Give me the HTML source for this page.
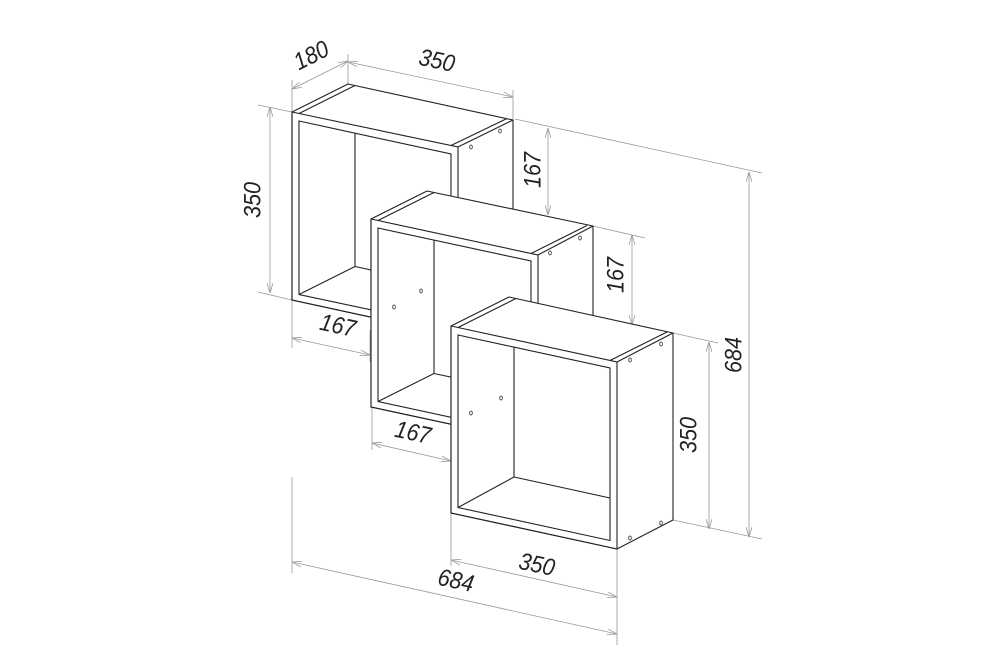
<!DOCTYPE html>
<html><head><meta charset="utf-8"><style>
html,body{margin:0;padding:0;background:#fff;width:1000px;height:666px;overflow:hidden}
svg{display:block}
.o{fill:#fff;stroke:#222;stroke-width:1.1;stroke-linejoin:round}
.l{stroke:#222;stroke-width:1.1;fill:none}
.d{stroke:#999;stroke-width:0.8;fill:none}
.h{fill:none;stroke:#333;stroke-width:0.8}
text{font-family:"Liberation Sans",sans-serif;font-style:italic;font-size:24px;fill:#222;text-anchor:middle;dominant-baseline:central}
</style></head><body>
<svg width="1000" height="666" viewBox="0 0 1000 666" xmlns="http://www.w3.org/2000/svg">
<defs>
<marker id="a" viewBox="0 0 10 6" refX="10" refY="3" markerWidth="10" markerHeight="6" orient="auto-start-reverse" markerUnits="userSpaceOnUse">
<path d="M0,0 L10,3 L0,6" fill="none" stroke="#999" stroke-width="0.8"/></marker>
</defs>

<g class="d">
<line x1="292" y1="112" x2="292" y2="80"/>
<line x1="348" y1="84" x2="348" y2="54"/>
<line x1="292" y1="89" x2="348" y2="61" marker-start="url(#a)" marker-end="url(#a)"/>
<line x1="513" y1="120" x2="513" y2="90"/>
<line x1="348" y1="62" x2="513" y2="97" marker-start="url(#a)" marker-end="url(#a)"/>
<line x1="258" y1="105" x2="292" y2="112"/>
<line x1="258" y1="292" x2="292" y2="300"/>
<line x1="270" y1="107" x2="270" y2="293" marker-start="url(#a)" marker-end="url(#a)"/>
<line x1="292" y1="300" x2="292" y2="348"/>
<line x1="370" y1="330" x2="370" y2="362"/>
<line x1="292" y1="338" x2="370" y2="355" marker-start="url(#a)" marker-end="url(#a)"/>
<line x1="515" y1="119" x2="762" y2="173"/>
<line x1="548" y1="128" x2="548" y2="215" marker-start="url(#a)" marker-end="url(#a)"/>
<line x1="593" y1="226" x2="645" y2="238"/>
<line x1="632" y1="235" x2="632" y2="325" marker-start="url(#a)" marker-end="url(#a)"/>
<line x1="673" y1="333" x2="718" y2="343"/>
<line x1="673" y1="520" x2="762" y2="539"/>
<line x1="709" y1="342" x2="709" y2="529" marker-start="url(#a)" marker-end="url(#a)"/>
<line x1="749" y1="172" x2="749" y2="537" marker-start="url(#a)" marker-end="url(#a)"/>
<line x1="372" y1="407" x2="372" y2="450"/>
<line x1="372" y1="443" x2="451" y2="461" marker-start="url(#a)" marker-end="url(#a)"/>
<line x1="451" y1="513" x2="451" y2="566"/>
<line x1="617" y1="549" x2="617" y2="645"/>
<line x1="451" y1="560" x2="617" y2="597" marker-start="url(#a)" marker-end="url(#a)"/>
<line x1="292" y1="477" x2="292" y2="573"/>
<line x1="292" y1="562" x2="617" y2="634" marker-start="url(#a)" marker-end="url(#a)"/>
</g>

<polygon class="o" points="292,112 348,84 513,120 513,308 458,336 292,300"/>
<g class="l">
<polygon points="292,112 458,147 458,336 292,300"/>
<line x1="458" y1="147" x2="513" y2="120"/>
<line x1="299" y1="113.5" x2="355" y2="85.5"/>
<line x1="451" y1="145.5" x2="507" y2="118.5"/>
<polygon points="299,121 451,154 451,327 299,294.5"/>
<line x1="299" y1="294.5" x2="355" y2="266.5"/>
<line x1="355" y1="266.5" x2="451" y2="287"/>
<line x1="355" y1="133" x2="355" y2="266.5"/>
</g>
<ellipse class="h" cx="500" cy="131" rx="1.3" ry="2"/>
<ellipse class="h" cx="471" cy="147" rx="1.3" ry="2"/>

<polygon class="o" points="371,219 427,191 593,226 593,415 538,443 371,407"/>
<g class="l">
<polygon points="371,219 538,255 538,443 371,407"/>
<line x1="538" y1="255" x2="593" y2="226"/>
<line x1="378" y1="220.5" x2="434" y2="192.5"/>
<line x1="531" y1="253.5" x2="587" y2="225.5"/>
<polygon points="378,228 531,261 531,434.5 378,401.5"/>
<line x1="378" y1="401.5" x2="434" y2="373.5"/>
<line x1="434" y1="373.5" x2="531" y2="394"/>
<line x1="434" y1="240" x2="434" y2="373.5"/>
</g>
<ellipse class="h" cx="580" cy="238" rx="1.3" ry="2"/>
<ellipse class="h" cx="550" cy="253" rx="1.3" ry="2"/>
<ellipse class="h" cx="394" cy="307" rx="1.3" ry="2"/>
<ellipse class="h" cx="421" cy="291" rx="1.3" ry="2"/>

<polygon class="o" points="451,326 509,297 673,333 673,520 617,549 451,513"/>
<g class="l">
<polygon points="451,326 617,362 617,549 451,513"/>
<line x1="617" y1="362" x2="673" y2="333"/>
<line x1="458" y1="327.5" x2="516" y2="298.5"/>
<line x1="610" y1="360.5" x2="667" y2="332"/>
<polygon points="458,335 610,368 610,540.5 458,507.5"/>
<line x1="458" y1="507.5" x2="514" y2="477"/>
<line x1="514" y1="477" x2="610" y2="498"/>
<line x1="514" y1="347" x2="514" y2="477"/>
</g>
<ellipse class="h" cx="661" cy="344" rx="1.3" ry="2"/>
<ellipse class="h" cx="630" cy="360" rx="1.3" ry="2"/>
<ellipse class="h" cx="661" cy="523" rx="1.3" ry="2"/>
<ellipse class="h" cx="630" cy="538" rx="1.3" ry="2"/>
<ellipse class="h" cx="471" cy="413" rx="1.3" ry="2"/>
<ellipse class="h" cx="501" cy="398" rx="1.3" ry="2"/>

<text transform="translate(311,55) rotate(-27) scale(0.9,1)">180</text>
<text transform="translate(437,60) rotate(12) scale(0.9,1)">350</text>
<text transform="translate(252,200) rotate(-90) scale(0.9,1)">350</text>
<text transform="translate(338,325) rotate(12) scale(0.9,1)">167</text>
<text transform="translate(532,170) rotate(-90) scale(0.9,1)">167</text>
<text transform="translate(615,275) rotate(-90) scale(0.9,1)">167</text>
<text transform="translate(733,355) rotate(-90) scale(0.9,1)">684</text>
<text transform="translate(688,435) rotate(-90) scale(0.9,1)">350</text>
<text transform="translate(413,432) rotate(12) scale(0.9,1)">167</text>
<text transform="translate(537,564) rotate(12) scale(0.9,1)">350</text>
<text transform="translate(456,580) rotate(12) scale(0.9,1)">684</text>
</svg>
</body></html>
